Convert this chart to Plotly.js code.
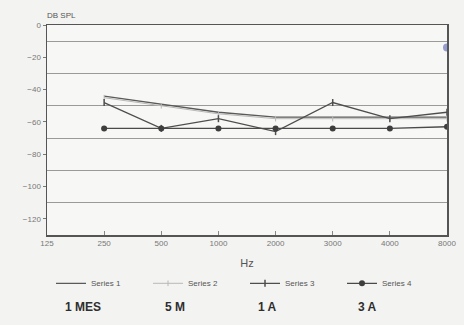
<!DOCTYPE html>
<html>
<head>
<meta charset="utf-8">
<script src="https://cdn.plot.ly/plotly-3.0.1.min.js"></script>
<style>html,body{margin:0;padding:0;background:#f3f3f1;}#chart{width:464px;height:325px;}</style>
</head>
<body>
<div id="chart"></div>
<script>
const freqs = ['125','250','500','1000','2000','3000','4000','8000'];
const dataFreqs = ['250','500','1000','2000','3000','4000','8000'];
const series1 = [-44, -49, -54, -57, -57, -57, -57];
const series2 = [-45, -50, -55, -58, -58, -58, -58];
const series3 = [-48, -64, -58, -66, -48, -58, -54];
const series4 = [-64, -64, -64, -64, -64, -64, -63];
const seriesNames = ['Series 1', 'Series 2', 'Series 3', 'Series 4'];
const groupLabels = ['1 MES', '5 M', '1 A', '3 A'];
const strayFreq = ['8000'];
const strayValue = [-14];
const yTicks = [0, -20, -40, -60, -80, -100, -120];

const traces = [
  {x: dataFreqs, y: series1, name: seriesNames[0], mode: 'lines',
   line: {color: '#5a5a5a', width: 1.3}},
  {x: dataFreqs, y: series2, name: seriesNames[1], mode: 'lines+markers',
   line: {color: '#b8b8b8', width: 1}, marker: {symbol: 'line-ns-open', size: 4, color: '#b8b8b8'}},
  {x: dataFreqs, y: series3, name: seriesNames[2], mode: 'lines+markers',
   line: {color: '#4e4e4e', width: 1.3}, marker: {symbol: 'line-ns-open', size: 5, color: '#4e4e4e', line: {width: 1.5, color: '#4e4e4e'}}},
  {x: dataFreqs, y: series4, name: seriesNames[3], mode: 'lines+markers',
   line: {color: '#4a4a4a', width: 1.3}, marker: {symbol: 'circle', size: 6, color: '#3e3e3e'}},
  {x: strayFreq, y: strayValue, mode: 'markers', showlegend: false, hoverinfo: 'skip',
   marker: {symbol: 'circle', size: 8, color: '#7c86c4', opacity: 0.8}}
];

const annFont = {family: 'Liberation Sans, Arial, sans-serif', size: 12, color: '#2e2e2e', weight: 'bold'};
const annX = [0.09, 0.32, 0.55, 0.80];
const annotations = groupLabels.map((t, i) => ({
  text: t, xref: 'paper', yref: 'paper', x: annX[i], y: -0.345, xanchor: 'center', yanchor: 'middle',
  showarrow: false, font: annFont
}));
annotations.push({text: 'DB SPL', xref: 'paper', yref: 'paper', x: -0.005, y: 1.015, xanchor: 'left', yanchor: 'bottom',
  showarrow: false, font: {family: 'Liberation Sans, Arial, sans-serif', size: 8, color: '#555'}});

const layout = {
  width: 464, height: 325,
  margin: {l: 47, r: 17, t: 25, b: 90},
  paper_bgcolor: '#f3f3f1', plot_bgcolor: '#f7f7f5',
  font: {family: 'Liberation Sans, Arial, sans-serif', size: 8, color: '#555'},
  showlegend: true,
  legend: {orientation: 'h', x: 0.01, y: -0.23, yanchor: 'middle', xanchor: 'left',
    font: {size: 8, color: '#555'}, entrywidth: 52, bgcolor: 'rgba(0,0,0,0)', itemwidth: 30,
    traceorder: 'normal'},
  xaxis: {type: 'category', categoryorder: 'array', categoryarray: freqs, tickvals: freqs, range: [0, 7],
    showgrid: false, zeroline: false, showline: true, linecolor: '#555', linewidth: 1.5, mirror: true,
    ticks: 'inside', ticklen: 4, tickcolor: '#888', tickfont: {size: 8, color: '#777'},
    title: {text: 'Hz', font: {size: 11, color: '#555'}, standoff: 12}},
  yaxis: {range: [-130, 0], tickvals: yTicks, showgrid: false, zeroline: false,
    showline: true, linecolor: '#555', linewidth: 1.5, mirror: true,
    ticks: 'outside', ticklen: 3, tickcolor: '#777', tickfont: {size: 8, color: '#777'},
    minor: {tick0: -10, dtick: 20, showgrid: true, gridcolor: '#9a9a9a', gridwidth: 1, ticks: ''}},
  annotations: annotations
};
Plotly.newPlot('chart', traces, layout, {displayModeBar: false, staticPlot: true});
</script>
</body>
</html>
